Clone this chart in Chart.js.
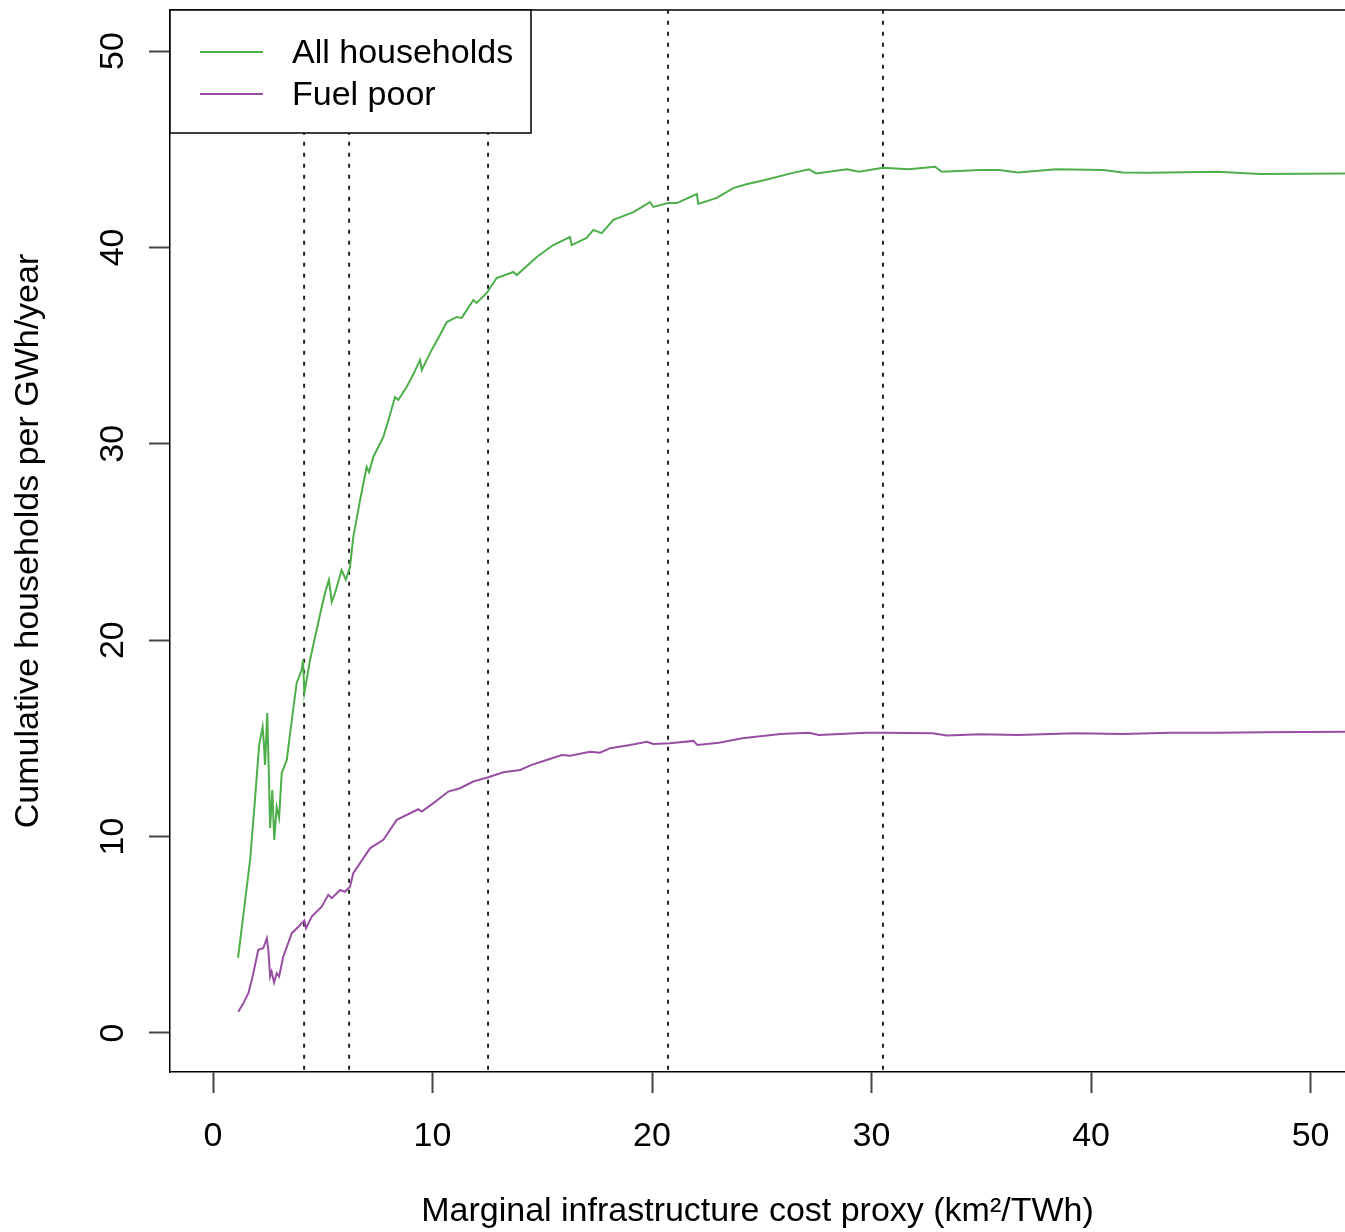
<!DOCTYPE html>
<html>
<head>
<meta charset="utf-8">
<script src="https://cdn.jsdelivr.net/npm/chart.js@4/dist/chart.umd.min.js"></script>
<style>
	html, body { margin: 0; padding: 0; background: #fff; }
	#wrap { width: 1345px; height: 1232px; }
</style>
</head>
<body>
<div id="wrap"><canvas id="canvas" width="1345" height="1232"></canvas></div>
<script>
// values
var xAll = [1.14, 1.41, 1.69, 1.91, 2.10, 2.26, 2.32, 2.37, 2.47, 2.55, 2.60, 2.70, 2.79, 2.90, 3.01, 3.13, 3.36, 3.59, 3.81, 4.04,
	4.10, 4.16, 4.42, 4.65, 4.87, 5.10, 5.28, 5.41, 5.56, 5.86, 6.05, 6.24, 6.39, 6.70, 7.00, 7.11, 7.30, 7.76, 8.06, 8.29,
	8.44, 8.82, 9.11, 9.43, 9.51, 9.96, 10.34, 10.65, 11.10, 11.33, 11.86, 12.01, 12.47, 12.92, 13.68, 13.84, 14.75, 15.50, 16.26, 16.34,
	17.02, 17.33, 17.71, 18.24, 19.15, 19.91, 20.06, 20.74, 21.13, 22.04, 22.11, 22.95, 23.70, 24.34, 25.15, 26.32, 27.15, 27.48, 28.88, 29.43,
	30.51, 31.70, 32.89, 33.21, 34.94, 35.81, 36.67, 38.41, 40.57, 41.44, 42.73, 45.77, 47.71, 51.6];
var yAll = [3.82, 6.26, 8.81, 11.86, 14.66, 15.58, 14.66, 13.65, 16.29, 12.88, 10.44, 12.37, 9.83, 11.51, 10.95, 13.24, 13.90, 15.94, 17.82, 18.48,
	18.99, 17.31, 18.99, 20.16, 21.28, 22.40, 23.07, 21.95, 22.40, 23.57, 23.07, 23.73, 25.25, 27.14, 28.82, 28.56, 29.33, 30.35, 31.47, 32.38,
	32.23, 32.89, 33.50, 34.27, 33.76, 34.78, 35.54, 36.20, 36.46, 36.41, 37.32, 37.17, 37.68, 38.44, 38.75, 38.59, 39.51, 40.12, 40.53, 40.12,
	40.48, 40.89, 40.73, 41.40, 41.80, 42.31, 42.06, 42.26, 42.26, 42.72, 42.21, 42.52, 43.02, 43.23, 43.43, 43.77, 43.98, 43.77, 43.98, 43.85,
	44.06, 43.98, 44.11, 43.85, 43.94, 43.94, 43.82, 43.98, 43.94, 43.82, 43.80, 43.85, 43.74, 43.77];

var xPoor = [1.15, 1.37, 1.61, 1.82, 2.06, 2.29, 2.45, 2.52, 2.60, 2.67, 2.78, 2.90, 3.01, 3.20, 3.59, 3.89, 4.16, 4.24, 4.50, 4.95,
	5.25, 5.41, 5.79, 6.01, 6.24, 6.39, 7.15, 7.76, 8.37, 9.35, 9.51, 10.04, 10.72, 11.25, 11.86, 12.54, 13.23, 13.99, 14.52, 15.20,
	15.89, 16.26, 17.18, 17.63, 18.09, 19.00, 19.76, 20.06, 20.82, 21.88, 22.07, 23.04, 24.12, 25.85, 27.15, 27.59, 29.75, 30.62, 32.78, 33.43,
	34.94, 36.67, 39.27, 41.44, 43.60, 45.77, 47.93, 51.6];
var yPoor = [1.08, 1.48, 2.02, 2.95, 4.23, 4.31, 4.82, 4.23, 2.87, 3.12, 2.56, 3.04, 2.87, 3.88, 5.08, 5.41, 5.72, 5.33, 5.92, 6.43,
	7.03, 6.86, 7.28, 7.19, 7.45, 8.13, 9.40, 9.83, 10.85, 11.39, 11.27, 11.70, 12.29, 12.46, 12.80, 13.02, 13.27, 13.39, 13.65, 13.90,
	14.15, 14.12, 14.32, 14.27, 14.50, 14.66, 14.83, 14.71, 14.75, 14.87, 14.66, 14.78, 15.01, 15.22, 15.29, 15.17, 15.29, 15.29, 15.26, 15.14,
	15.21, 15.17, 15.26, 15.22, 15.29, 15.29, 15.31, 15.34];

var cutoffs = [4.15, 6.2, 12.53, 20.73, 30.52];
var seriesNames = ['All households', 'Fuel poor'];
var seriesColors = ['#4DAF4A', '#984EA3'];

var FONT = 'Liberation Sans, Arial, Helvetica, sans-serif';
var FSIZE = 34;

function pts(xs, ys){
	var out = [];
	for (var i = 0; i < xs.length; i++){
		out.push({x: xs[i], y: ys[i]});
	}
	return out;
}

// R style box, rotated y labels and legend
var rStyle = {
	id: 'rStyle',
	afterDraw: function(chart){
		var ctx = chart.ctx;
		var a = chart.chartArea;
		var ys = chart.scales.y;
		ctx.save();

		// top edge of the box
		ctx.strokeStyle = '#000';
		ctx.lineWidth = 1.5;
		ctx.beginPath();
		ctx.moveTo(a.left, a.top);
		ctx.lineTo(a.right, a.top);
		ctx.stroke();

		// y tick labels, rotated like R
		ctx.fillStyle = '#000';
		ctx.font = FSIZE + 'px ' + FONT;
		ctx.textAlign = 'center';
		ctx.textBaseline = 'middle';
		ys.ticks.forEach(function(t){
			ctx.save();
			ctx.translate(114, ys.getPixelForValue(t.value));
			ctx.rotate(-Math.PI / 2);
			ctx.fillText(String(t.value), 0, 0);
			ctx.restore();
		});

		// legend box
		var lx = a.left, ly = a.top, lw = 361, lh = 123;
		ctx.fillStyle = '#fff';
		ctx.fillRect(lx, ly, lw, lh);
		ctx.strokeStyle = '#000';
		ctx.lineWidth = 1.5;
		ctx.strokeRect(lx, ly, lw, lh);
		ctx.textAlign = 'left';
		for (var i = 0; i < seriesNames.length; i++){
			var yy = ly + 42 + i * 42;
			ctx.strokeStyle = seriesColors[i];
			ctx.lineWidth = 2;
			ctx.beginPath();
			ctx.moveTo(lx + 30, yy);
			ctx.lineTo(lx + 93, yy);
			ctx.stroke();
			ctx.fillStyle = '#000';
			ctx.fillText(seriesNames[i], lx + 122, yy + 2);
		}
		ctx.restore();
	}
};

function noPad(s){
	s.paddingLeft = 0;
	s.paddingRight = 0;
	s.paddingTop = 0;
	s.paddingBottom = 0;
}

function graph(){
	var ctx = document.getElementById('canvas').getContext('2d');
	var sets = [
		{ data: pts(xAll, yAll), borderColor: seriesColors[0], borderWidth: 2 },
		{ data: pts(xPoor, yPoor), borderColor: seriesColors[1], borderWidth: 2 }
	];
	cutoffs.forEach(function(c){
		sets.push({ data: [{x: c, y: -3}, {x: c, y: 55}], borderColor: '#222', borderWidth: 2, borderDash: [4, 7] });
	});

	var chart = new Chart(ctx, {
		type: 'line',
		data: { datasets: sets },
		options: {
			responsive: false,
			animation: false,
			events: [],
			layout: { padding: { top: 10, right: 0, left: 0, bottom: 0 } },
			elements: { point: { radius: 0 }, line: { tension: 0, fill: false } },
			plugins: { legend: { display: false }, tooltip: { enabled: false } },
			scales: {
				x: {
					type: 'linear',
					min: -1.96,
					max: 51.57,
					afterFit: function(s){ s.height = 160; noPad(s); },
					afterBuildTicks: function(s){
						s.ticks = [0, 10, 20, 30, 40, 50].map(function(v){ return {value: v}; });
					},
					grid: { drawOnChartArea: false, drawTicks: true, tickLength: 21, tickColor: '#444', tickWidth: 2 },
					border: { color: '#000', width: 1.5 },
					ticks: { color: '#000', font: { family: FONT, size: FSIZE }, padding: 23, maxRotation: 0 },
					title: { display: true, text: 'Marginal infrastructure cost proxy (km\u00b2/TWh)', color: '#000',
						font: { family: FONT, size: FSIZE }, padding: { top: 0, bottom: 0 } }
				},
				y: {
					type: 'linear',
					min: -1.99,
					max: 52.09,
					afterFit: function(s){ s.width = 170; noPad(s); },
					afterBuildTicks: function(s){
						s.ticks = [0, 10, 20, 30, 40, 50].map(function(v){ return {value: v}; });
					},
					grid: { drawOnChartArea: false, drawTicks: true, tickLength: 21, tickColor: '#444', tickWidth: 2 },
					border: { color: '#000', width: 1.5 },
					ticks: { display: false },
					title: { display: true, text: 'Cumulative households per GWh/year', color: '#000',
						font: { family: FONT, size: FSIZE }, padding: { top: 8, bottom: 0 } }
				}
			}
		},
		plugins: [rStyle]
	});
}

graph();
</script>
</body>
</html>
